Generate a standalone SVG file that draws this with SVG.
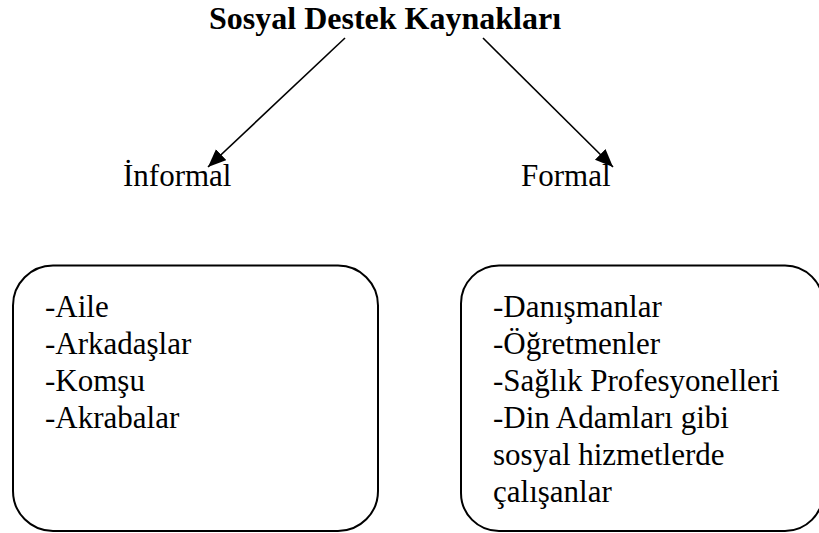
<svg xmlns="http://www.w3.org/2000/svg" width="819" height="533" viewBox="0 0 819 533">
<style>
text{font-family:"Times New Roman","Liberation Serif",Tinos,serif;fill:#000;font-size:31px;font-weight:normal}
.title{font-weight:bold;font-size:32px}
.box{fill:#fff;stroke:#000;stroke-width:2}
.conn{stroke:#000;stroke-width:1.6;fill:none}
</style>
<defs>
<marker id="ah" markerUnits="userSpaceOnUse" markerWidth="19" markerHeight="16" refX="18" refY="7.5" orient="auto">
<path d="M0,0 L18,7.5 L0,15 Z" fill="#000"/>
</marker>
</defs>
<rect width="819" height="533" fill="#fff"/>
<g id="title"><text class="title" x="385" y="29" text-anchor="middle">Sosyal Destek Kaynakları</text></g>
<g id="informal"><text x="123" y="186">İnformal</text></g>
<g id="formal"><text x="521" y="186">Formal</text></g>
<g id="informal-box">
<rect class="box" x="13" y="265.5" width="365" height="265.5" rx="40" ry="40"/>
<text x="45" y="317">-Aile</text>
<text x="45" y="354">-Arkadaşlar</text>
<text x="45" y="391">-Komşu</text>
<text x="45" y="428">-Akrabalar</text>
</g>
<g id="formal-box">
<rect class="box" x="461" y="265.5" width="362" height="265.5" rx="38" ry="38"/>
<text x="493" y="317">-Danışmanlar</text>
<text x="493" y="354">-Öğretmenler</text>
<text x="493" y="391">-Sağlık Profesyonelleri</text>
<text x="493" y="428">-Din Adamları gibi</text>
<text x="493" y="465">sosyal hizmetlerde</text>
<text x="493" y="502">çalışanlar</text>
</g>
<g id="connectors">
<line class="conn" x1="345" y1="38" x2="208" y2="167" marker-end="url(#ah)"/>
<line class="conn" x1="483" y1="38" x2="613" y2="167" marker-end="url(#ah)"/>
</g>
</svg>
